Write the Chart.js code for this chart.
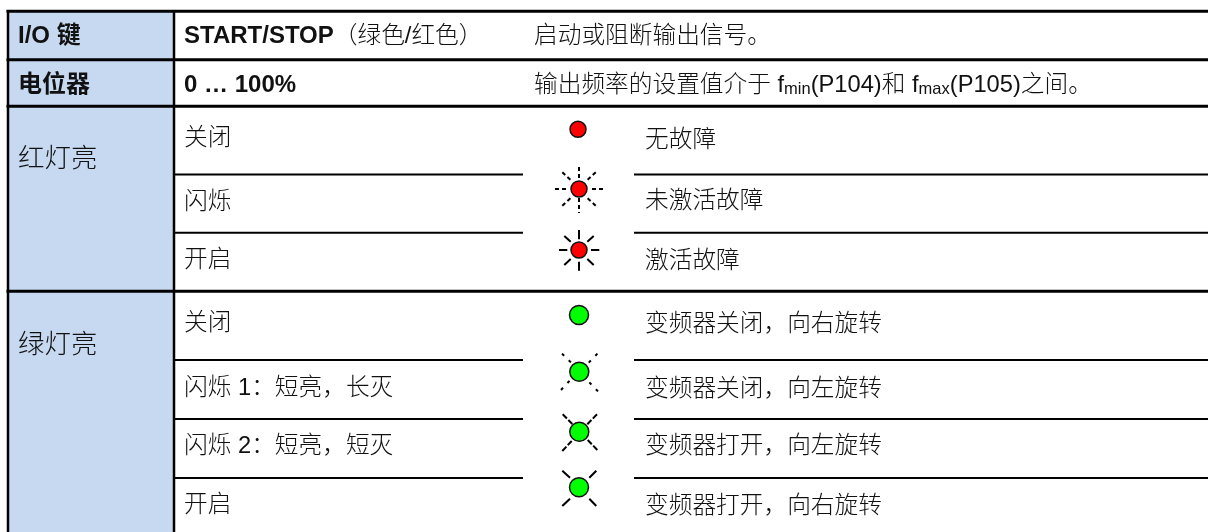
<!DOCTYPE html>
<html>
<head>
<meta charset="utf-8">
<script src="https://cdn.jsdelivr.net/npm/chart.js@4"></script>
<style>
  html, body { margin: 0; padding: 0; background: #fff; }
  canvas { display: block; }
</style>
</head>
<body>
<canvas id="chart" width="1208" height="532"></canvas>
<script>
// Left column
const groupLabels = ['红灯亮', '绿灯亮'];
const groupY = [160, 346];

// Second column, state of the LED
const stateLabels = ['关闭', '闪烁', '开启', '关闭', '闪烁 1：短亮，长灭', '闪烁 2：短亮，短灭', '开启'];
const stateY = [138, 202, 260, 323, 388, 446, 505];

// Right column, what the state means
const meaningLabels = ['无故障', '未激活故障', '激活故障', '变频器关闭，向右旋转', '变频器关闭，向左旋转', '变频器打开，向左旋转', '变频器打开，向右旋转'];
const meaningY = [140, 201, 261, 324, 389, 446, 506];

// LEDs, one for each state
const ledX = [578, 579, 579, 579, 579.3, 579.3, 579];
const ledY = [129.3, 189, 250, 315, 371.7, 431.7, 487.3];
const ledRadius = [8, 8, 8, 9.5, 9.5, 9.5, 9.5];
const ledColors = ['#ff0000', '#ff0000', '#ff0000', '#00ff00', '#00ff00', '#00ff00', '#00ff00'];

// Table rules
const thickRuleY = [11.3, 59.8, 106.3, 291.3];
const thinRuleY = [174.5, 232.8, 360, 419, 478];

const BOLD = 'bold 24px "Liberation Sans", "Noto Sans CJK SC"';
const PLAIN = '300 23.7px "Liberation Sans", "Noto Sans CJK SC"';
const GROUP = '300 26.5px "Liberation Sans", "Noto Sans CJK SC"';
const SUB = '300 16.5px "Liberation Sans", "Noto Sans CJK SC"';

// A gap in a dataset is a point without a y value
const segments = (list) => {
  const points = [];
  list.forEach(([x1, y1, x2, y2]) => {
    points.push({ x: x1, y: y1 }, { x: x2, y: y2 }, { x: x2, y: NaN });
  });
  return points;
};

const rule = (list, width) => ({
  data: segments(list),
  order: 2,
  showLine: true,
  borderColor: '#000',
  borderWidth: width,
  pointRadius: 0,
  spanGaps: false,
});

const rays = (list, dash) => ({
  data: segments(list),
  order: 1,
  showLine: true,
  borderColor: '#000',
  borderWidth: 2,
  borderDash: dash,
  pointRadius: 0,
  spanGaps: false,
});

// Draws the texts of the table on the scales of the chart
const tableText = {
  id: 'tableText',
  afterDatasetsDraw(chart) {
    const ctx = chart.ctx;
    const { x: xs, y: ys } = chart.scales;

    const write = (x, y, runs) => {
      let px = xs.getPixelForValue(x);
      runs.forEach(([text, font, dy]) => {
        ctx.font = font;
        ctx.fillText(text, px, ys.getPixelForValue(y + (dy || 0)));
        px += ctx.measureText(text).width;
      });
    };

    ctx.save();
    ctx.fillStyle = '#111';
    ctx.textBaseline = 'middle';
    ctx.textAlign = 'left';

    write(18, 36, [['I/O 键', BOLD]]);
    write(18, 85, [['电位器', BOLD]]);
    write(184, 36, [['START/STOP', BOLD], ['（绿色/红色）', PLAIN]]);
    write(184, 85, [['0 … 100%', BOLD]]);
    write(534, 36, [['启动或阻断输出信号。', PLAIN]]);
    write(534, 85, [
      ['输出频率的设置值介于 f', PLAIN], ['min', SUB, 4], ['(P104)和 f', PLAIN],
      ['max', SUB, 4], ['(P105)之间。', PLAIN],
    ]);

    groupLabels.forEach((t, i) => write(18, groupY[i], [[t, GROUP]]));
    stateLabels.forEach((t, i) => write(184, stateY[i], [[t, PLAIN]]));
    meaningLabels.forEach((t, i) => write(645, meaningY[i], [[t, PLAIN]]));
    ctx.restore();
  },
};

new Chart(document.getElementById('chart'), {
  type: 'scatter',
  data: {
    datasets: [
      // Blue left column
      {
        data: [{ x: 7, y: 11 }, { x: 174, y: 11 }],
        order: 3,
        showLine: true,
        borderWidth: 0,
        pointRadius: 0,
        backgroundColor: '#c6d9f1',
        fill: { value: 532 },
      },
      rule(thickRuleY.map((y) => [6.5, y, 1208, y]), 3),
      rule([[8, 10, 8, 532], [174, 10, 174, 532]], 2.5),
      rule(thinRuleY.flatMap((y) => [[175, y, 523, y], [634, y, 1208, y]]), 2),
      // Blinking red
      rays([
        [579, 167, 579, 180], [579, 198, 579, 213], [555, 189, 568, 189], [592, 189, 604, 189],
        [562.3, 172.3, 571.7, 181], [595.7, 172.3, 586.3, 181],
        [562.3, 205.7, 571.7, 197], [595.7, 205.7, 586.3, 197],
      ], [4, 3]),
      // Red on
      rays([
        [579, 230, 579, 239.3], [579, 261.7, 579, 270.7], [559, 250, 567.3, 250], [591, 250, 599.3, 250],
        [564.3, 236, 570.7, 241.7], [593.7, 236, 587.3, 241.7],
        [564.3, 265, 570.7, 259], [593.7, 265, 587.3, 259],
      ], []),
      // Green flash 1
      rays([
        [562, 353.6, 571.5, 363], [597.4, 353.6, 588.4, 363],
        [561, 390, 570, 380.3], [598, 391.4, 588.4, 381.4],
      ], [3, 6.5]),
      // Green flash 2
      rays([
        [562.7, 414.3, 572.3, 424], [597, 414.3, 587.3, 424.3],
        [562.3, 451, 571.7, 441], [597.3, 450, 587.7, 440],
      ], [6, 2]),
      // Green on
      rays([
        [562.3, 470.7, 570, 477.7], [596.3, 470.7, 589.3, 477.7],
        [562.3, 506, 570, 498.7], [596.3, 506, 589.3, 498.7],
      ], []),
      // LEDs
      {
        data: ledX.map((x, i) => ({ x, y: ledY[i] })),
        order: 0,
        pointRadius: ledRadius,
        pointHoverRadius: ledRadius,
        pointBackgroundColor: ledColors,
        pointBorderColor: '#111',
        pointBorderWidth: 1.5,
      },
    ],
  },
  options: {
    responsive: false,
    animation: false,
    layout: { padding: 0, autoPadding: false },
    plugins: { legend: { display: false }, tooltip: { enabled: false } },
    scales: {
      x: { type: 'linear', min: 0, max: 1208, display: false },
      y: { type: 'linear', min: 0, max: 532, reverse: true, display: false },
    },
  },
  plugins: [tableText],
});
</script>
</body>
</html>
